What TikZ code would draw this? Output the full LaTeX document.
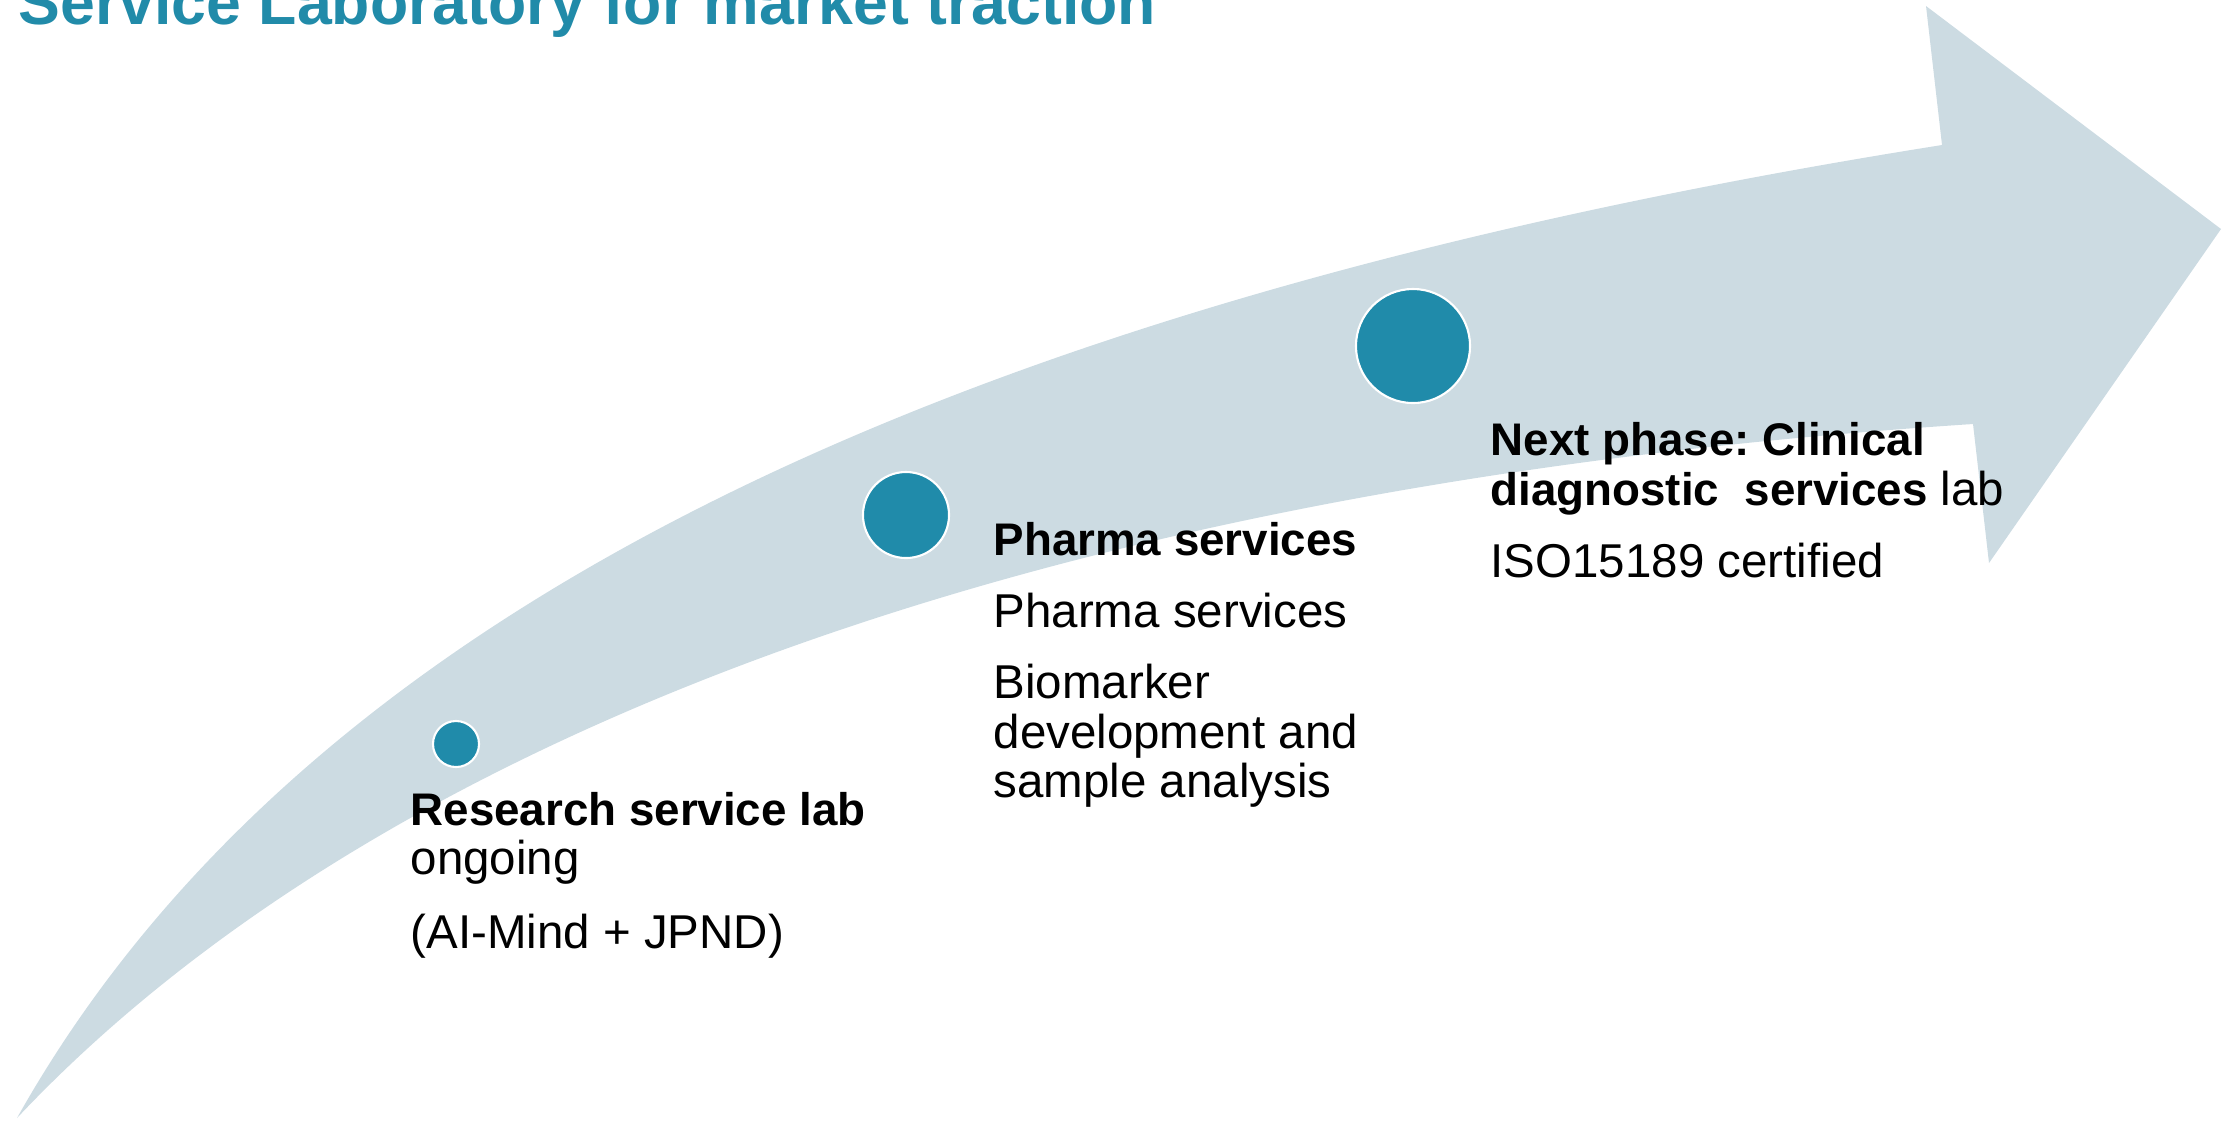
\documentclass[tikz,border=0pt]{standalone}
\usepackage{fontspec}
\setmainfont{Liberation Sans}
\frenchspacing
\definecolor{bandfill}{HTML}{CCDBE2}
\definecolor{milestone}{HTML}{208BAA}
\definecolor{headline}{HTML}{218BA9}
\begin{document}
\begin{tikzpicture}[x=0.01cm, y=-0.01cm,
  dot/.style={circle, fill=milestone, draw=white, line width=0.6pt, inner sep=0pt},
  body/.style={font=\fontsize{13.5}{15}\selectfont, anchor=base west, inner sep=0pt, text=black},
  lead/.style={body, font=\fontsize{13.0}{15}\selectfont\bfseries}]
\useasboundingbox (0,0) rectangle (2239,1120);
\clip (0,0) rectangle (2239,1120);

% curved arrow band
\coordinate (tail) at (17,1118);
\coordinate (neckU) at (1942,145);
\coordinate (barbU) at (1926,6);
\coordinate (tip) at (2221,229);
\coordinate (barbL) at (1989,563);
\coordinate (neckL) at (1973,424);
\fill[bandfill] (tail) .. controls (280,650) and (870,315) .. (neckU)
  -- (barbU) -- (tip) -- (barbL) -- (neckL)
  .. controls (960,490) and (340,775) .. (tail) -- cycle;

% title
\node[anchor=base west, inner sep=0pt, text=headline,
      font=\fontsize{17.8}{20}\selectfont\bfseries] (title) at (18,24)
  {Service Laboratory for market traction};

% milestones
\node[dot, minimum size=0.46cm] (c1) at (456,744) {};
\node[dot, minimum size=0.86cm] (c2) at (906,515) {};
\node[dot, minimum size=1.14cm] (c3) at (1413,346) {};

% stage 1
\node[lead] (r1) at (410,825) {Research service lab};
\node[body] (r2) at (410,874) {ongoing};
\node[body] (r3) at (410,948) {(AI-Mind + JPND)};

% stage 2
\node[lead] (p1) at (993,555) {Pharma services};
\node[body] (p2) at (993,627) {Pharma services};
\node[body] (p3) at (993,698) {Biomarker};
\node[body] (p4) at (993,748) {development and};
\node[body] (p5) at (993,797) {sample analysis};

% stage 3
\node[lead] (n1) at (1490,455) {Next phase: Clinical};
\node[body] (n2) at (1490,505) {{\fontsize{13.0}{15}\selectfont\bfseries diagnostic\ \ services} lab};
\node[body] (n3) at (1490,577) {ISO15189 certified};
\end{tikzpicture}
\end{document}
